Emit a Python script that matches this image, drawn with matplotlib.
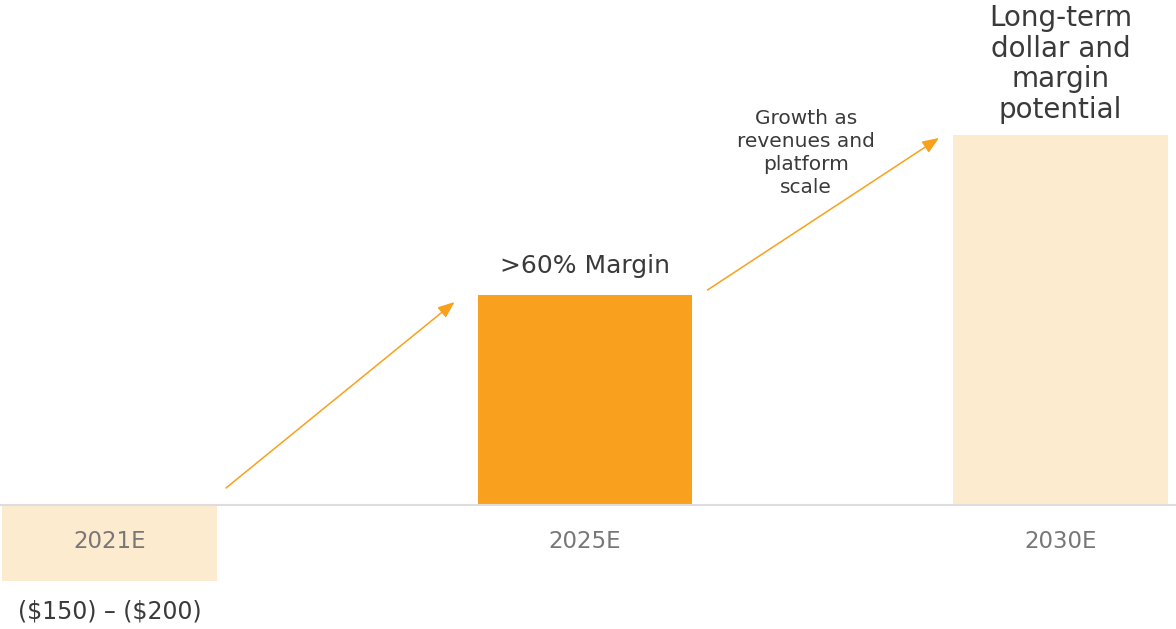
import matplotlib.pyplot as plt

# --- Data ---
years = ['2021E', '2025E', '2030E']
values = [-76, 210, 370]          # relative bar heights (illustrative)
bar_colors = ['#FDEBD0', '#F9A11F', '#FDEBD0']
value_notes = ['(\\$150) – (\\$200)', '>60% Margin', 'Long-term\ndollar and\nmargin\npotential']
arrow_note = 'Growth as\nrevenues and\nplatform\nscale'

# --- Style ---
plt.rcParams['font.family'] = ['DejaVu Sans']
ORANGE = '#F7A11C'
DARK = '#3a3a3a'
GREY = '#777777'
BAR_W = 0.452

fig = plt.figure(figsize=(11.76, 6.29), dpi=100)
ax = fig.add_axes([0, 0, 1, 1])
ax.set_xlim(-0.2303, 2.2429)
ax.set_ylim(-124, 505)
ax.axis('off')

x = list(range(len(years)))
ax.bar(x, values, width=BAR_W, color=bar_colors, zorder=2)
ax.axhline(0, color='#dddddd', lw=1.5, zorder=3)

# year labels under the baseline (inside the negative bar for 2021E)
for xi, yr in zip(x, years):
    ax.text(xi, -36, yr, ha='center', va='center', fontsize=16.5, color=GREY, zorder=4)

# value notes
ax.text(x[0], -106, value_notes[0], ha='center', va='center', fontsize=17, color=DARK)
ax.text(x[1], values[1] + 17, value_notes[1], ha='center', va='bottom', fontsize=18, color=DARK)
ax.text(x[2], values[2] + 11, value_notes[2], ha='center', va='bottom', fontsize=20,
        color=DARK, linespacing=1.12)

# arrows between bars
px = 1 / 475.5   # one pixel in x data units
arrows = [
    ((x[0] + BAR_W / 2 + 9 * px, 17), (x[1] - BAR_W / 2 - 23 * px, values[1] - 7)),
    ((x[1] + BAR_W / 2 + 15 * px, values[1] + 5), (x[2] - BAR_W / 2 - 14 * px, values[2] - 3)),
]
for start, end in arrows:
    ax.annotate('', xy=end, xytext=start,
                arrowprops=dict(arrowstyle='-|>,head_length=1.0,head_width=0.4',
                                color=ORANGE, lw=1.1, shrinkA=0, shrinkB=0))

ax.text(1.465, 352, arrow_note, ha='center', va='center',
        fontsize=14.5, color=DARK, linespacing=1.25)

fig.savefig('out.png', dpi=100)
